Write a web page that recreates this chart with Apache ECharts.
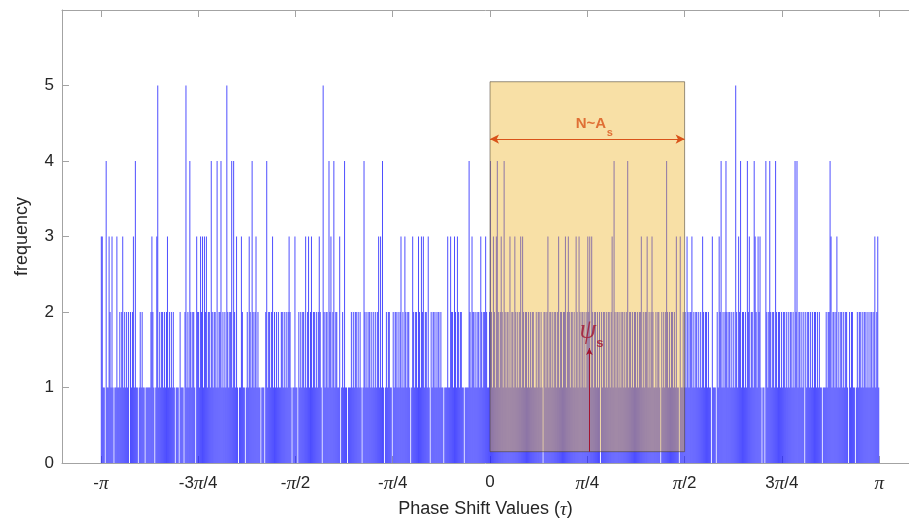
<!DOCTYPE html>
<html>
<head>
<meta charset="utf-8">
<script src="https://cdn.jsdelivr.net/npm/echarts@6/dist/echarts.min.js"></script>
<style>
  html, body { margin: 0; padding: 0; background: #fff; }
  #chart { width: 909px; height: 525px; }
</style>
</head>
<body>
<div id="chart"></div>
<script>
// Histogram counts of the phase shift, 100 bins per π/4 interval (from -π to π)
const countsNegPiTo3Q = ['3311041132','1310113112','1231212120','2123141101','2121101111','1232101351','2122121231','2121210111','0211102512','1421221032'];
const counts3QToHalf  = ['2132313231','2214212214','1224121215','2122414213','1011321101','2132142123','1211011102','4122123121','2121122121','2123210113'];
const countsHalfToQ   = ['1102121221','3123123122','1212321052','1221423124','1221130121','4110111212','1221212101','4212122121','2121231314','1012122110'];
const countsQToZero   = ['2122121231','2132122101','3212213213','2312213102','1221212212','1101113113','2213213212','2110111142','1322121221','3212232112'];
const countsZeroToQ   = ['4213213421','2321421221','3122132121','2313212212','1212211212','2121022123','1221212212','3122122312','3212212132','1321221212'];
const countsQToHalf   = ['3231321221','2120212212','1221231421','2212122121','2412212122','1212231212','2312123211','2122102121','2421212212','1311031121'];
const countsHalfTo3Q  = ['2132122312','1221212132','1221211031','1102132412','1242122121','2152132412','2121423122','1432132310','1104212421','2214212212'];
const counts3QToPi    = ['1221212122','1214241221','2120212212','1212212121','1011121224','3122123121','2212122102','1221101212','2121221212','1221231231'];

// Axis ticks
const tickValues = [-Math.PI, -3*Math.PI/4, -Math.PI/2, -Math.PI/4, 0, Math.PI/4, Math.PI/2, 3*Math.PI/4, Math.PI];
const tickLabels = ['-π', '-3π/4', '-π/2', '-π/4', '0', 'π/4', 'π/2', '3π/4', 'π'];
const yTickValues = [0, 1, 2, 3, 4, 5];

// Highlighted region and annotations
const regionX = [0, Math.PI/2];
const regionY = [0.15, 5.05];
const spanArrowY = 4.29;
const psiArrow = { x: 0.802, from: 0.15, to: 1.523 };

const binWidth = Math.PI / 400;
const counts = [].concat(countsNegPiTo3Q, counts3QToHalf, countsHalfToQ, countsQToZero,
                         countsZeroToQ, countsQToHalf, countsHalfTo3Q, counts3QToPi)
  .join('').split('').map(Number);
const barData = [];
counts.forEach((c, i) => {
  if (c > 0) barData.push([-Math.PI + (i + 0.5) * binWidth, c]);
});

const axisColor = '#a3a3a3';
const textColor = '#262626';

function piLabel(v) {
  let k = tickValues.findIndex(t => Math.abs(t - v) < 1e-6);
  if (k < 0) return '';
  return tickLabels[k].replace('π', '{p|π}');
}

const chart = echarts.init(document.getElementById('chart'), null, { renderer: 'canvas' });
chart.setOption({
  animation: false,
  backgroundColor: '#ffffff',
  grid: { left: 62, top: 10, right: 0, height: 453, containLabel: false },
  xAxis: [{
    type: 'value', min: -3.455, max: 3.382, position: 'bottom',
    axisLine: { show: true, onZero: false, lineStyle: { color: axisColor, width: 1 } },
    axisTick: { show: true, inside: true, length: 7, customValues: tickValues, lineStyle: { color: axisColor } },
    axisLabel: {
      show: true, customValues: tickValues, margin: 11, formatter: piLabel,
      color: textColor, fontSize: 17, fontFamily: 'Liberation Sans, Arial, sans-serif',
      rich: { p: { fontFamily: 'Liberation Serif, serif', fontStyle: 'italic', fontSize: 19, color: textColor } }
    },
    splitLine: { show: false },
    name: 'Phase Shift Values ({t|τ})', nameLocation: 'middle', nameGap: 37,
    nameTextStyle: {
      color: textColor, fontSize: 18, fontFamily: 'Liberation Sans, Arial, sans-serif',
      rich: { t: { fontFamily: 'Liberation Serif, serif', fontStyle: 'italic', fontSize: 19, color: textColor } }
    }
  }, {
    type: 'value', min: -3.455, max: 3.382, position: 'top',
    axisLine: { show: true, onZero: false, lineStyle: { color: axisColor, width: 1 } },
    axisTick: { show: true, inside: true, length: 7, customValues: tickValues, lineStyle: { color: axisColor } },
    axisLabel: { show: false },
    splitLine: { show: false }
  }],
  yAxis: [{
    type: 'value', min: 0, max: 6, interval: 1,
    axisLine: { show: true, onZero: false, lineStyle: { color: axisColor, width: 1 } },
    axisTick: { show: true, inside: true, length: 7, customValues: yTickValues, lineStyle: { color: axisColor } },
    axisLabel: {
      show: true, customValues: yTickValues, margin: 8, color: textColor, fontSize: 17,
      fontFamily: 'Liberation Sans, Arial, sans-serif'
    },
    splitLine: { show: false },
    name: 'frequency', nameLocation: 'middle', nameGap: 31,
    nameTextStyle: { color: textColor, fontSize: 18, fontFamily: 'Liberation Sans, Arial, sans-serif' }
  }],
  series: [{
    type: 'bar',
    name: 'counts',
    xAxisIndex: 0, yAxisIndex: 0,
    data: barData,
    barWidth: 1,
    large: false,
    silent: true,
    z: 2,
    itemStyle: { color: 'rgba(30,30,255,0.78)' }
  }, {
    type: 'scatter',
    name: 'region',
    xAxisIndex: 0, yAxisIndex: 0,
    data: [],
    silent: true,
    markArea: {
      z: 5,
      silent: true,
      itemStyle: { color: 'rgba(237,177,32,0.4)', borderColor: 'rgba(70,60,45,0.55)', borderWidth: 1 },
      data: [[{ coord: [regionX[0], regionY[0]] }, { coord: [regionX[1], regionY[1]] }]]
    },
    markLine: {
      z: 6,
      silent: true,
      symbol: ['arrow', 'arrow'],
      symbolSize: [7, 9],
      label: { show: false },
      lineStyle: { color: '#d95319', width: 1.2, type: 'solid' },
      data: [[{ coord: [regionX[0], spanArrowY] }, { coord: [regionX[1], spanArrowY] }]]
    }
  }, {
    type: 'scatter',
    name: 'psi',
    xAxisIndex: 0, yAxisIndex: 0,
    data: [],
    silent: true,
    markLine: {
      z: 6,
      silent: true,
      symbol: ['none', 'arrow'],
      symbolSize: [5, 7],
      label: { show: false },
      lineStyle: { color: '#a2142f', width: 1, type: 'solid' },
      data: [[{ coord: [psiArrow.x, psiArrow.from] }, { coord: [psiArrow.x, psiArrow.to] }]]
    }
  }, {
    type: 'scatter',
    name: 'labels',
    xAxisIndex: 0, yAxisIndex: 0,
    symbolSize: 0,
    silent: true,
    z: 7,
    label: { show: true, position: [0, 0], align: 'center', verticalAlign: 'middle' },
    data: [
      { value: [0.814, 4.493], label: { formatter: 'N~A', color: '#d95319', fontWeight: 'bold', fontSize: 15, fontFamily: 'Liberation Sans, Arial, sans-serif' } },
      { value: [0.966, 4.37], label: { formatter: 's', color: '#d95319', fontWeight: 'bold', fontSize: 11, fontFamily: 'Liberation Sans, Arial, sans-serif' } },
      { value: [0.79, 1.75], label: { formatter: 'ψ', color: '#a2142f', fontStyle: 'italic', fontSize: 27, fontFamily: 'Liberation Serif, serif' } },
      { value: [0.886, 1.585], label: { formatter: 's', color: '#a2142f', fontWeight: 'bold', fontSize: 13, fontFamily: 'Liberation Sans, Arial, sans-serif' } }
    ]
  }]
});
</script>
</body>
</html>
